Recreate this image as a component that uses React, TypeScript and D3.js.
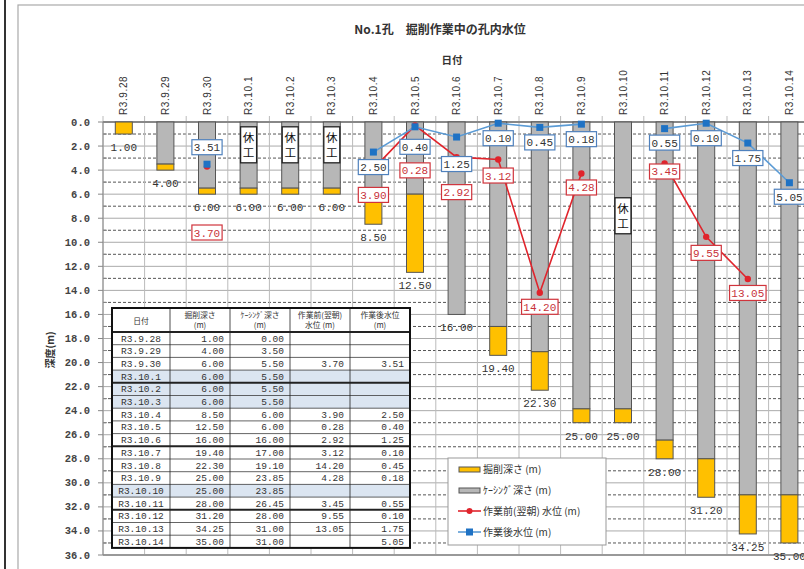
import React from 'react';
import * as d3 from 'd3';

// Dates (x categories)
const dates = [
  'R3.9.28', 'R3.9.29', 'R3.9.30', 'R3.10.1', 'R3.10.2', 'R3.10.3', 'R3.10.4', 'R3.10.5', 'R3.10.6',
  'R3.10.7', 'R3.10.8', 'R3.10.9', 'R3.10.10', 'R3.10.11', 'R3.10.12', 'R3.10.13', 'R3.10.14',
];
// 掘削深さ (m)
const excavation = [1.0, 4.0, 6.0, 6.0, 6.0, 6.0, 8.5, 12.5, 16.0, 19.4, 22.3, 25.0, 25.0, 28.0, 31.2, 34.25, 35.0];
// ケーシング深さ (m)
const casing = [0.0, 3.5, 5.5, 5.5, 5.5, 5.5, 6.0, 6.0, 16.0, 17.0, 19.1, 23.85, 23.85, 26.45, 28.0, 31.0, 31.0];
// 作業前(翌朝)水位 (m)
const before: (number | null)[] = [null, null, 3.7, null, null, null, 3.9, 0.28, 2.92, 3.12, 14.2, 4.28, null, 3.45, 9.55, 13.05, null];
// 作業後水位 (m)
const after: (number | null)[] = [null, null, 3.51, null, null, null, 2.5, 0.4, 1.25, 0.1, 0.45, 0.18, null, 0.55, 0.1, 1.75, 5.05];
// 休工 days and the depth where the note sits
const restDays = ['R3.10.1', 'R3.10.2', 'R3.10.3', 'R3.10.10'];
const restDepth = [0.4, 0.4, 0.4, 6.3];
const yTicks = d3.range(0, 37, 2);
const tableHeaders = [
  ['日付'],
  ['掘削深さ', '(m)'],
  ['ｹｰｼﾝｸﾞ深さ', '(m)'],
  ['作業前(翌朝)', '水位 (m)'],
  ['作業後水位', '(m)'],
];

// label offsets (px below the point), as placed by hand in the original
const beforeDy = [0, 0, 66, 0, 0, 0, 26, 45, 35, 16, 14, 14, 0, 8, 16, 14, 0];
const afterDy = [0, 0, -17, 0, 0, 0, 15, 20, 27, 15, 15, 15, 0, 14, 15, 15, 14];

const W = 804;
const H = 569;
const mono = '"Liberation Mono", "DejaVu Sans Mono", monospace';
const jp = '"Noto Sans CJK JP", "Noto Sans", sans-serif';
const txt = '#333';

const ValueBox: React.FC<{ x: number; y: number; text: string; stroke: string; color: string }> = ({ x, y, text, stroke, color }) => {
  const w = text.length * 6.3 + 5;
  return (
    <g>
      <rect x={x - w / 2} y={y - 7.5} width={w} height={15} fill="#fff" stroke={stroke} strokeWidth={1.2} />
      <text x={x} y={y + 4} textAnchor="middle" fontFamily={mono} fontSize={11} fill={color}>{text}</text>
    </g>
  );
};

const App: React.FC = () => {
  const band = 41.6;
  const x = d3.scaleBand<string>().domain(dates).range([103, 103 + band * dates.length]);
  const y = d3.scaleLinear().domain([0, 36]).range([122, 555]);
  const cx = (d: string) => (x(d) as number) + x.bandwidth() / 2;
  const barW = 17;

  const line = d3.line<[string, number | null]>()
    .defined(d => d[1] != null)
    .x(d => cx(d[0]))
    .y(d => y(d[1] as number));
  const beforePts = dates.map((d, i) => [d, before[i]] as [string, number | null]);
  const afterPts = dates.map((d, i) => [d, after[i]] as [string, number | null]);

  // table layout
  const tx = 112;
  const colW = [58, 60, 60, 60, 60];
  const colX = colW.reduce<number[]>((a, w) => [...a, a[a.length - 1] + w], [tx]);
  const tTop = 308;
  const headH = 24;
  const rowH = 12.7;
  const tBottom = tTop + headH + rowH * dates.length;
  const fmt = (v: number | null) => (v == null ? '' : v.toFixed(2));

  return (
    <svg width={W} height={H} style={{ position: 'absolute', left: 0, top: 0, background: '#fff' }}>
      {/* frame */}
      <line x1={5} x2={5} y1={0} y2={H} stroke="#333" strokeWidth={2} />
      <rect x={18} y={5} width={W} height={H} fill="#fff" stroke="#aaa" strokeWidth={1.2} />

      <text x={440} y={34} textAnchor="middle" fontFamily={jp} fontSize={12} fontWeight={600} fill={txt}>
        No.1孔　掘削作業中の孔内水位
      </text>
      <text x={452} y={64} textAnchor="middle" fontFamily={jp} fontSize={10.5} fontWeight={600} fill={txt}>日付</text>

      {/* grid */}
      {d3.range(1, 36, 2).map(v => (
        <line key={'m' + v} x1={103} x2={W} y1={y(v)} y2={y(v)} stroke="#555" strokeWidth={1} strokeDasharray="3,2" />
      ))}
      {yTicks.map(v => (
        <line key={'g' + v} x1={103} x2={W} y1={y(v)} y2={y(v)} stroke="#aaa" strokeWidth={1} />
      ))}
      {dates.map(d => (
        <line key={'v' + d} x1={x(d)} x2={x(d)} y1={116} y2={555} stroke="#bbb" strokeWidth={1} />
      ))}

      {/* axes */}
      <line x1={103} x2={W} y1={y(0)} y2={y(0)} stroke="#888" strokeWidth={2} />
      <line x1={103} x2={W} y1={y(36)} y2={y(36)} stroke="#999" strokeWidth={2} />
      <line x1={103} x2={103} y1={y(0)} y2={y(36)} stroke="#888" strokeWidth={1} />
      {yTicks.map(v => (
        <g key={'t' + v}>
          <line x1={98} x2={103} y1={y(v)} y2={y(v)} stroke="#888" />
          <text x={90} y={y(v) + 3.5} textAnchor="end" fontFamily={mono} fontSize={10.5} fontWeight={700} fill="#444">
            {v.toFixed(1)}
          </text>
        </g>
      ))}
      {d3.range(1, 36, 2).map(v => (
        <line key={'mt' + v} x1={103} x2={107} y1={y(v)} y2={y(v)} stroke="#888" />
      ))}
      <text transform={`translate(54,350) rotate(-90)`} textAnchor="middle" fontFamily={jp} fontSize={10} fontWeight={600} fill={txt}>
        深度(m)
      </text>
      {dates.map(d => (
        <text key={'xl' + d} transform={`translate(${cx(d) + 3.5},115) rotate(-90)`} fontFamily='"Liberation Sans", Arial, sans-serif'
          fontSize={10} letterSpacing={0.6} fill={txt}>
          {d}
        </text>
      ))}

      {/* bars */}
      {dates.map((d, i) => (
        <g key={'b' + d}>
          {casing[i] > 0 && (
            <rect x={cx(d) - barW / 2} y={y(0)} width={barW} height={y(casing[i]) - y(0)} fill="#b7b7b7" stroke="#555" strokeWidth={1} />
          )}
          <rect x={cx(d) - barW / 2} y={y(casing[i])} width={barW} height={y(excavation[i]) - y(casing[i])} fill="#ffc000" stroke="#555" strokeWidth={1} />
          <text x={cx(d)} y={y(excavation[i]) + 17} textAnchor="middle" fontFamily={mono} fontSize={11} fill="#333">
            {excavation[i].toFixed(2)}
          </text>
        </g>
      ))}

      {/* 休工 notes */}
      {restDays.map((d, i) => (
        <g key={'r' + d}>
          <rect x={cx(d) - 8} y={y(restDepth[i])} width={16} height={36} fill="#fff" stroke="#222" strokeWidth={1.3} />
          <text x={cx(d)} y={y(restDepth[i]) + 15} textAnchor="middle" fontFamily={jp} fontSize={11.5} fill="#111">休</text>
          <text x={cx(d)} y={y(restDepth[i]) + 30} textAnchor="middle" fontFamily={jp} fontSize={11.5} fill="#111">工</text>
        </g>
      ))}

      {/* table */}
      <rect x={tx} y={tTop} width={colX[5] - tx} height={tBottom - tTop} fill="#fff" />
      {dates.map((d, i) =>
        restDays.includes(d) ? (
          <rect key={'hl' + d} x={tx} y={tTop + headH + rowH * i} width={colX[5] - tx} height={rowH} fill="#dbe5f1" />
        ) : null
      )}
      {dates.map((d, i) => (
        <line key={'rl' + d} x1={tx} x2={colX[5]} y1={tTop + headH + rowH * i} y2={tTop + headH + rowH * i}
          stroke="#222" strokeWidth={i === 0 || i === 4 || i === 9 || i === 14 ? 2 : 0.7} />
      ))}
      {colX.slice(1, 5).map(cxl => (
        <line key={'cl' + cxl} x1={cxl} x2={cxl} y1={tTop} y2={tBottom} stroke="#222" strokeWidth={0.8} />
      ))}
      <rect x={tx} y={tTop} width={colX[5] - tx} height={tBottom - tTop} fill="none" stroke="#111" strokeWidth={2} />
      {tableHeaders.map((lines, c) =>
        lines.map((s, k) => (
          <text key={'h' + c + k} x={(colX[c] + colX[c + 1]) / 2}
            y={lines.length === 1 ? tTop + 15.5 : tTop + 10 + k * 10}
            textAnchor="middle" fontFamily={jp} fontSize={7.8} fill={txt}>
            {s}
          </text>
        ))
      )}
      {dates.map((d, i) => {
        const ty = tTop + headH + rowH * i + 9.5;
        const vals = [excavation[i], casing[i], before[i], after[i]];
        return (
          <g key={'row' + d} fontFamily={mono} fontSize={9.5} fill={txt}>
            <text x={(colX[0] + colX[1]) / 2} y={ty} textAnchor="middle">{d}</text>
            {vals.map((v, c) => (
              <text key={c} x={colX[c + 2] - 6} y={ty} textAnchor="end">{fmt(v)}</text>
            ))}
          </g>
        );
      })}

      {/* water level lines */}
      <path d={line(beforePts) ?? ''} fill="none" stroke="#e0242c" strokeWidth={1.6} />
      <path d={line(afterPts) ?? ''} fill="none" stroke="#5b9bd5" strokeWidth={1.6} />
      {beforePts.map(([d, v]) => v != null && (
        <circle key={'bc' + d} cx={cx(d)} cy={y(v)} r={3.2} fill="#e0242c" />
      ))}
      {afterPts.map(([d, v]) => v != null && (
        <rect key={'as' + d} x={cx(d) - 3.5} y={y(v) - 3.5} width={7} height={7} fill="#1f72c4" />
      ))}
      {afterPts.map(([d, v], i) => v != null && (
        <ValueBox key={'al' + d} x={cx(d)} y={y(v) + afterDy[i]} text={v.toFixed(2)} stroke="#4f81bd" color="#333" />
      ))}
      {beforePts.map(([d, v], i) => v != null && (
        <ValueBox key={'bl' + d} x={cx(d)} y={y(v) + beforeDy[i]} text={v.toFixed(2)} stroke="#d0343c" color="#c8323a" />
      ))}

      {/* legend */}
      <rect x={448} y={458} width={158} height={87} fill="#fff" stroke="#999" strokeWidth={1} />
      <rect x={459} y={467} width={21} height={5} fill="#ffc000" stroke="#555" />
      <text x={483} y={473} fontFamily={jp} fontSize={10} fill={txt}>掘削深さ (m)</text>
      <rect x={459} y={488} width={21} height={5} fill="#b7b7b7" stroke="#555" />
      <text x={483} y={494} fontFamily={jp} fontSize={10} fill={txt}>ｹｰｼﾝｸﾞ深さ (m)</text>
      <line x1={458} x2={481} y1={511} y2={511} stroke="#e0242c" strokeWidth={1.6} />
      <circle cx={469.5} cy={511} r={3} fill="#e0242c" />
      <text x={483} y={515} fontFamily={jp} fontSize={10} fill={txt}>作業前(翌朝) 水位 (m)</text>
      <line x1={458} x2={481} y1={532} y2={532} stroke="#5b9bd5" strokeWidth={1.6} />
      <rect x={466} y={528.5} width={7} height={7} fill="#1f72c4" />
      <text x={483} y={536} fontFamily={jp} fontSize={10} fill={txt}>作業後水位 (m)</text>
    </svg>
  );
};

export default App;
